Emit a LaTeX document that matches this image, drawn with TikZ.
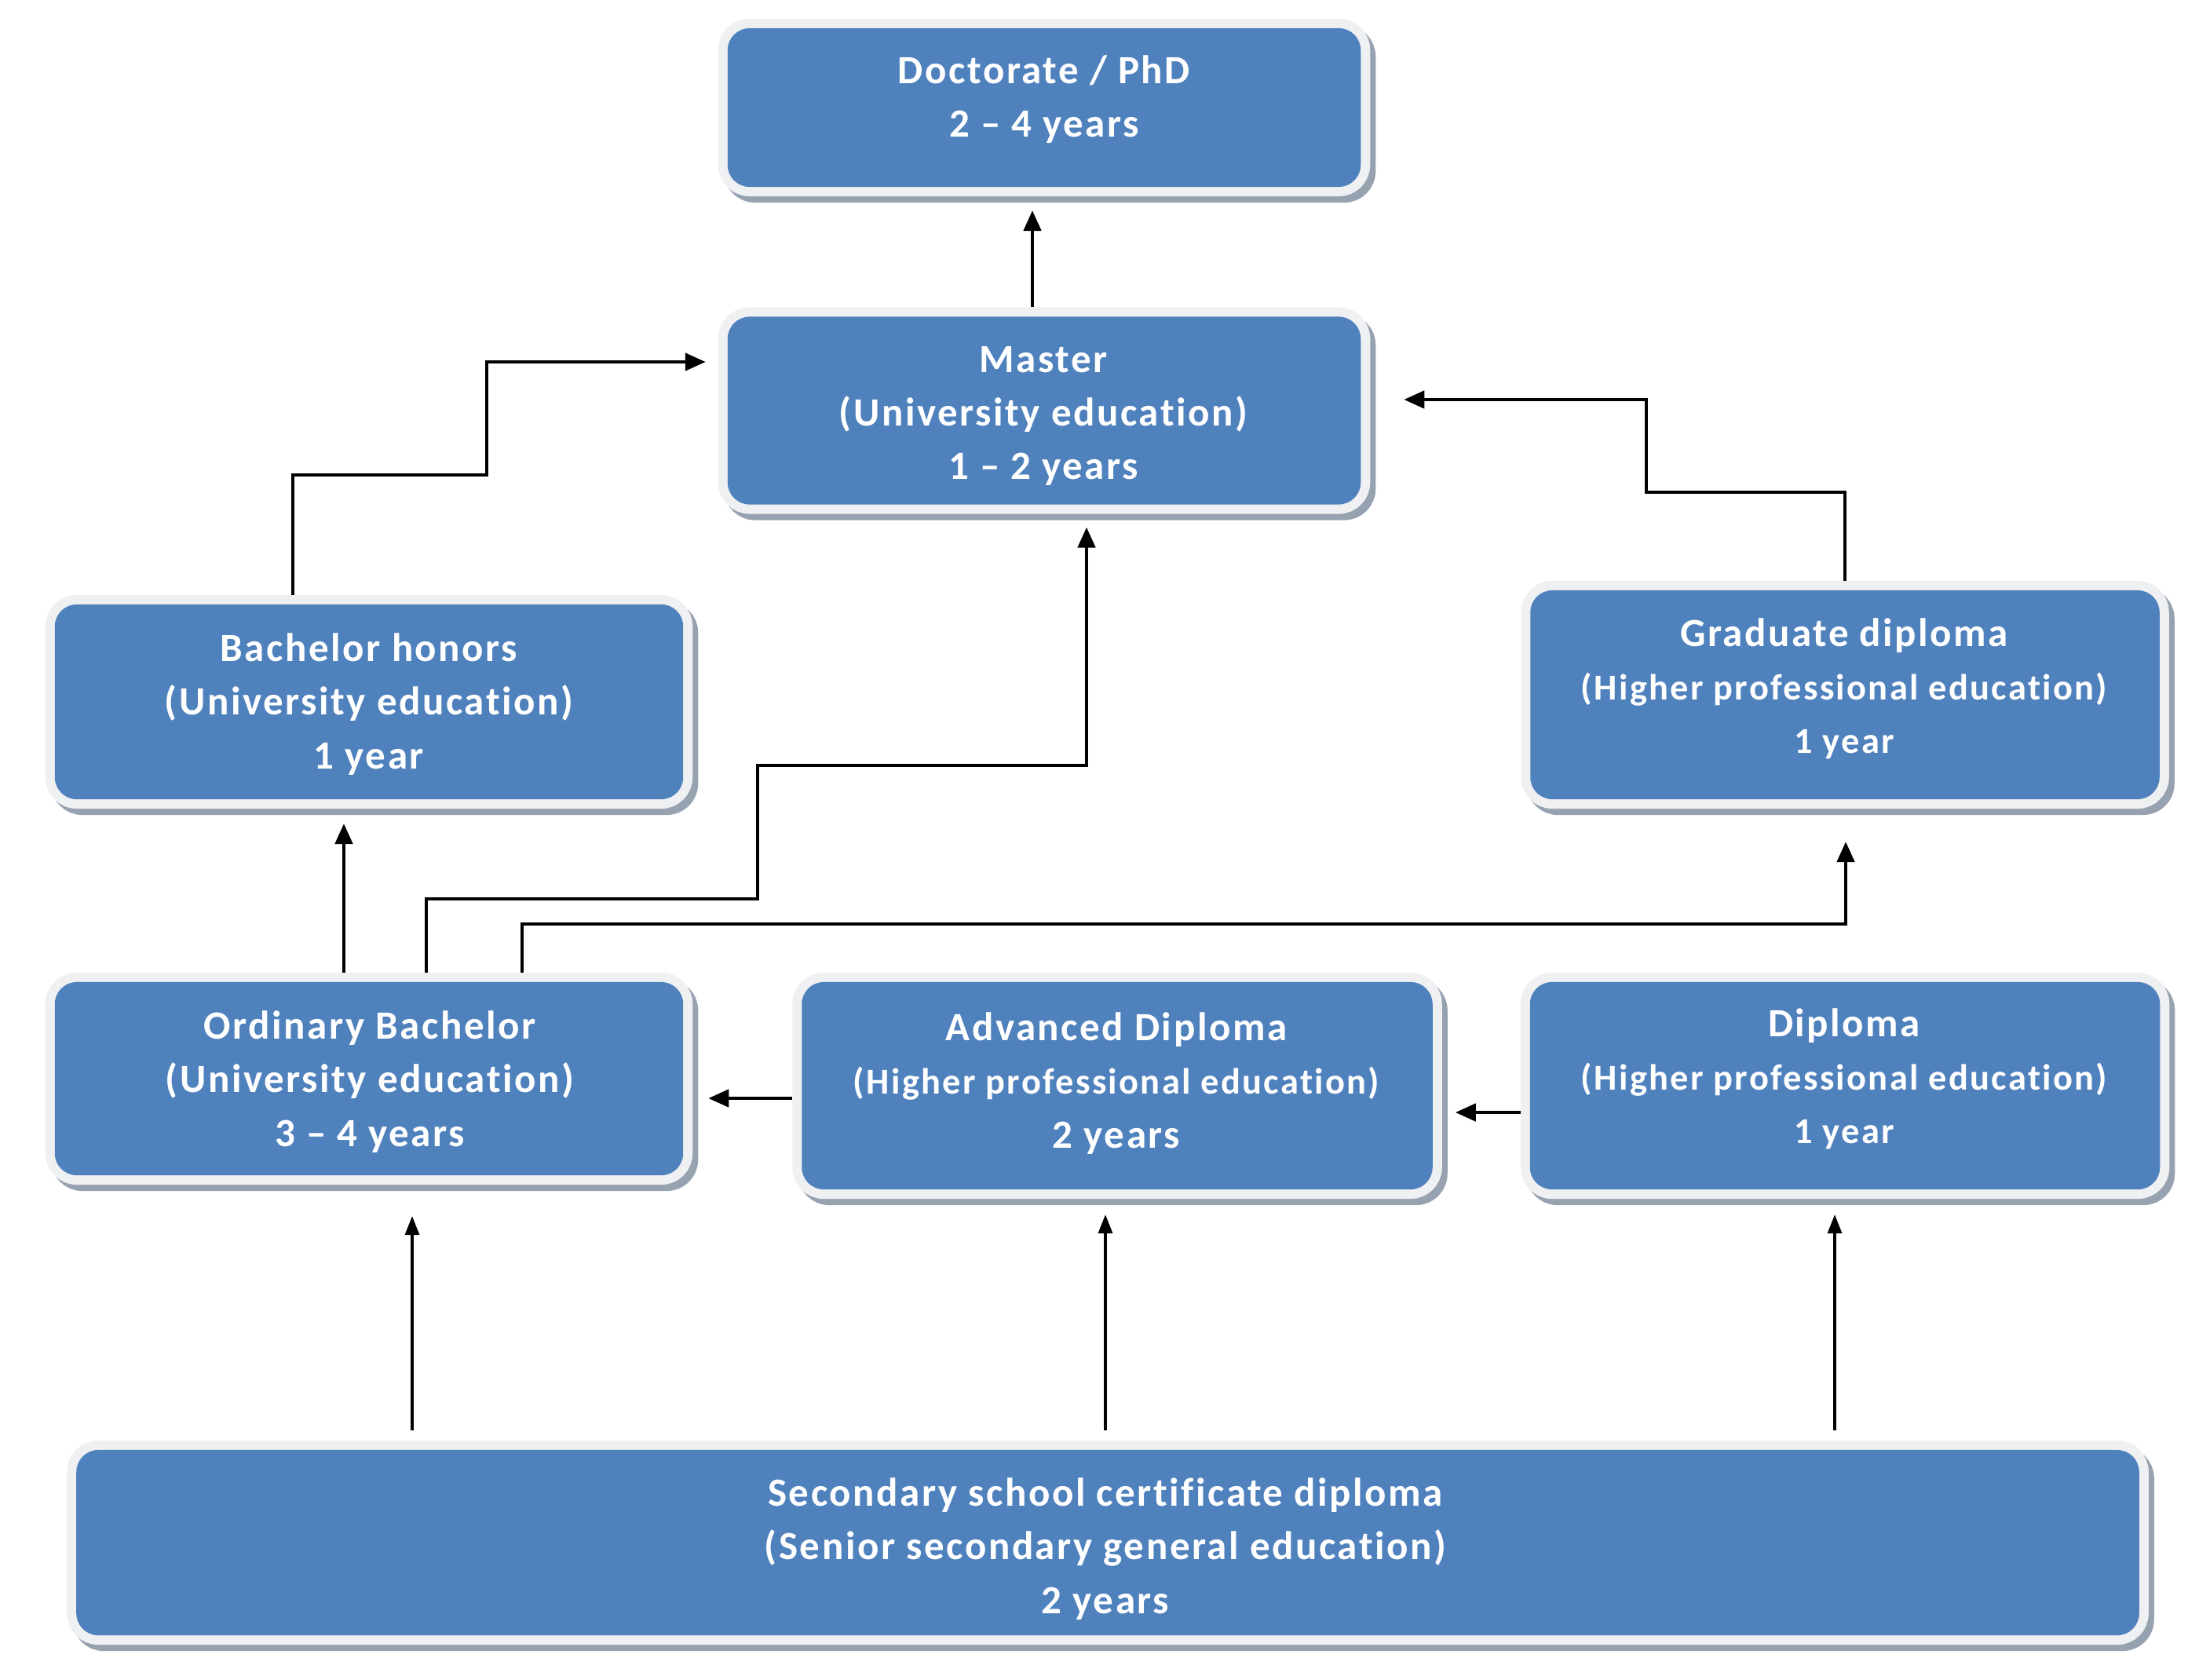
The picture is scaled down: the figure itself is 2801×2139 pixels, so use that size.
\documentclass[tikz,border=0pt]{standalone}
\usepackage{fontspec}
\setmainfont{Carlito}[BoldFont=Carlito Bold, LetterSpace=5, Ligatures=NoCommon]
\usetikzlibrary{arrows.meta,calc}
\definecolor{boxblue}{HTML}{4F81BD}
\definecolor{rimc}{HTML}{EFF0F2}
\definecolor{shadc}{HTML}{97A2B1}
\newcommand\bxfont{\fontsize{14.5}{19.4}\selectfont\bfseries}
\newcommand\sxfont{\fontsize{13.2}{18}\selectfont\bfseries}
\tikzset{
  box/.style={rectangle, rounded corners=0.28cm, fill=boxblue, inner sep=0pt, outer sep=0.12cm,
    preaction={draw=shadc, line width=0.24cm, transform canvas={shift={(0.07cm,-0.08cm)}}},
    preaction={draw=rimc, line width=0.24cm}},
  lbl/.style={text=white, align=center, font=\bxfont, inner sep=0pt},
  conn/.style={line width=1.3pt, -{Triangle[length=0.26cm,width=0.22cm]}},
  connb/.style={line width=0.9pt, -{Triangle[length=0.24cm,width=0.18cm]}},
}
\begin{document}
\begin{tikzpicture}[x=0.01cm, y=-0.01cm]
\useasboundingbox[fill=white] (0,0) rectangle (2801,2139);

% boxes
\node[box, minimum width=8.06cm, minimum height=2.02cm] (doc) at (1330,137) {};
\node[box, minimum width=8.06cm, minimum height=2.39cm] (master) at (1330,523) {};
\node[box, minimum width=8.00cm, minimum height=2.48cm] (bh) at (470,894) {};
\node[box, minimum width=8.01cm, minimum height=2.66cm] (grad) at (2350,885) {};
\node[box, minimum width=8.00cm, minimum height=2.46cm] (ord) at (470,1374) {};
\node[box, minimum width=8.03cm, minimum height=2.64cm] (adv) at (1423,1383) {};
\node[box, minimum width=8.02cm, minimum height=2.64cm] (dip) at (2350,1383) {};
\node[box, minimum width=26.26cm, minimum height=2.36cm] (sec) at (1411,1965) {};

% labels
\node[lbl] (doct) at (1330,127) {Doctorate / PhD\\2 – 4 years};
\node[lbl] (mastert) at (1329,530) {Master\\(University education)\\1 – 2 years};
\node[lbl] (bht) at (470,897) {Bachelor honors\\(University education)\\1 year};
\node[lbl] (gradt) at (2349,877) {Graduate diploma\\\sxfont(Higher professional education)\\\sxfont 1 year};
\node[lbl] (ordt) at (471,1378) {Ordinary Bachelor\\(University education)\\3 – 4 years};
\node[lbl] (advt) at (1422,1380) {Advanced Diploma\\\sxfont(Higher professional education)\\2 years};
\node[lbl] (dipt) at (2349,1374) {Diploma\\\sxfont(Higher professional education)\\\sxfont 1 year};
\node[lbl] (sect) at (1408,1973) {Secondary school certificate diploma\\(Senior secondary general education)\\2 years};

% connectors
\draw[conn] ($(master.north)+(-15,0)$) -- ($(doc.south)+(-15,18)$);
\draw[conn] ($(bh.north)+(-97,0)$) -- ++(0,-153) -- ++(247,0) |- ($(master.west)+(-16,-62)$);
\draw[conn] (grad.north) -- ++(0,-113) -- ++(-253,0) |- ($(master.east)+(43,-14)$);
\draw[conn] ($(ord.north)+(-32,0)$) -- ($(bh.south)+(-32,19)$);
\draw[conn] ($(ord.north)+(73,0)$) -- ++(0,-94) -- ++(422,0) -- ++(0,-170) -| ($(master.south)+(54,17)$);
\draw[conn] ($(ord.north)+(195,0)$) -- ++(0,-62) -| ($(grad.south)+(1,42)$);
\draw[conn] ($(adv.west)+(0,16)$) -- ($(ord.east)+(20,25)$);
\draw[conn] ($(dip.west)+(0,34)$) -- ($(adv.east)+(17,34)$);
\draw[connb] ($(sec.north)+(-886,-13)$) -- ($(ord.south)+(55,40)$);
\draw[connb] ($(sec.north)+(-3,-13)$) -- ($(adv.south)+(-15,20)$);
\draw[connb] ($(sec.north)+(926,-13)$) -- ($(dip.south)+(-13,20)$);
\end{tikzpicture}
\end{document}
